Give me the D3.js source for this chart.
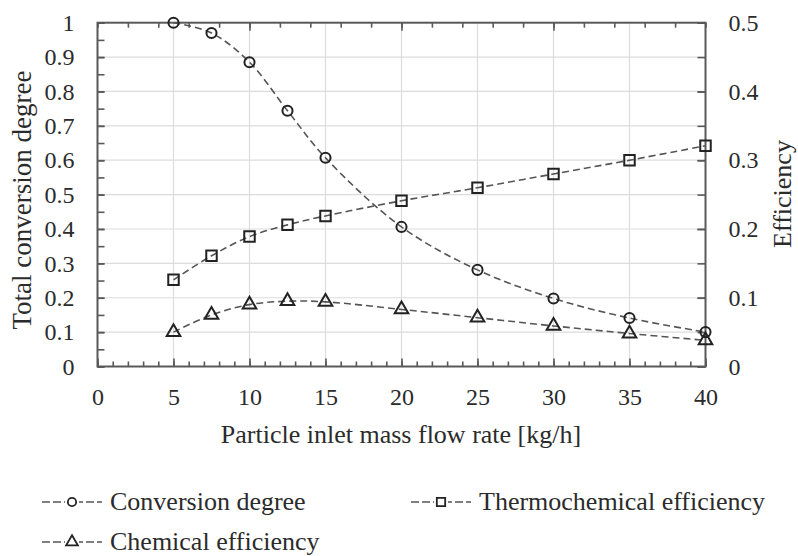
<!DOCTYPE html>
<html>
<head>
<meta charset="utf-8">
<script src="https://cdn.jsdelivr.net/npm/d3@7"></script>
<style>
  body { margin: 0; background: #fff; }
</style>
</head>
<body>
<svg id="chart" width="798" height="556"></svg>
<script>
var flowRate = [5, 7.5, 10, 12.5, 15, 20, 25, 30, 35, 40];
var conversion = [1.0, 0.97, 0.885, 0.744, 0.607, 0.406, 0.281, 0.198, 0.141, 0.1];
var thermoEff = [0.126, 0.161, 0.189, 0.206, 0.219, 0.241, 0.26, 0.28, 0.3, 0.321];
var chemEff = [0.05, 0.075, 0.09, 0.095, 0.094, 0.083, 0.071, 0.059, 0.048, 0.038];
var seriesNames = ['Conversion degree', 'Thermochemical efficiency', 'Chemical efficiency'];

var fontFamily = '"Liberation Serif", serif';
var margin = { top: 22.7, left: 97.5 };
var width = 608, height = 343.8;
var axisColor = '#595959';

var svg = d3.select('#chart');
var g = svg.append('g').attr('transform', 'translate(' + margin.left + ',' + margin.top + ')');

var x = d3.scaleLinear().domain([0, 40]).range([0, width]);
var yL = d3.scaleLinear().domain([0, 1]).range([height, 0]);
var yR = d3.scaleLinear().domain([0, 0.5]).range([height, 0]);

// grid
g.append('g').selectAll('line.h')
  .data(d3.range(0.1, 1.0, 0.1))
  .enter().append('line')
  .attr('x1', 0).attr('x2', width)
  .attr('y1', function(d){ return yL(d); }).attr('y2', function(d){ return yL(d); })
  .attr('stroke', '#dcdcdc').attr('stroke-width', 1.2);
g.append('g').selectAll('line.v')
  .data(d3.range(5, 40, 5))
  .enter().append('line')
  .attr('y1', 0).attr('y2', height)
  .attr('x1', function(d){ return x(d); }).attr('x2', function(d){ return x(d); })
  .attr('stroke', '#dcdcdc').attr('stroke-width', 1.2);

function styleAxis(sel){
  sel.select('.domain').remove();
  sel.selectAll('line').attr('stroke', axisColor).attr('stroke-width', 1.6);
  sel.selectAll('text').attr('font-size', 24).attr('fill', '#2b2b2b')
    .style('font-family', fontFamily);
}

// minor ticks
g.append('g').attr('transform', 'translate(0,' + height + ')')
  .call(d3.axisBottom(x).tickValues(d3.range(0, 41, 1)).tickSize(-5).tickFormat(''))
  .call(styleAxis);
g.append('g')
  .call(d3.axisTop(x).tickValues(d3.range(0, 41, 2)).tickSize(-5).tickFormat(''))
  .call(styleAxis);
g.append('g')
  .call(d3.axisTop(x).tickValues([10, 20, 30]).tickSize(-8).tickFormat(''))
  .call(styleAxis);
g.append('g')
  .call(d3.axisLeft(yL).tickValues(d3.range(0, 1.001, 0.05)).tickSize(-7).tickFormat(''))
  .call(styleAxis);
g.append('g').attr('transform', 'translate(' + width + ',0)')
  .call(d3.axisRight(yR).tickValues(d3.range(0, 0.501, 0.05)).tickSize(-8).tickFormat(''))
  .call(styleAxis);

// major labelled axes
g.append('g').attr('transform', 'translate(0,' + height + ')')
  .call(d3.axisBottom(x).tickValues(d3.range(0, 41, 5)).tickSize(-8).tickPadding(21).tickFormat(d3.format('d')))
  .call(styleAxis);
g.append('g')
  .call(d3.axisLeft(yL).tickValues(d3.range(0, 1.001, 0.1)).tickSize(-7).tickPadding(23)
    .tickFormat(function(d){ return d === 0 ? '0' : d === 1 ? '1' : d3.format('.1f')(d); }))
  .call(styleAxis);
g.append('g').attr('transform', 'translate(' + width + ',0)')
  .call(d3.axisRight(yR).tickValues(d3.range(0, 0.501, 0.1)).tickSize(-8).tickPadding(23)
    .tickFormat(function(d){ return d === 0 ? '0' : d3.format('.1f')(d); }))
  .call(styleAxis);

// frame
g.append('rect').attr('width', width).attr('height', height)
  .attr('fill', 'none').attr('stroke', axisColor).attr('stroke-width', 2);

// series
var series = [
  { name: seriesNames[0], values: conversion, y: yL, symbol: d3.symbolCircle, size: 80 },
  { name: seriesNames[1], values: thermoEff, y: yR, symbol: d3.symbolSquare, size: 110 },
  { name: seriesNames[2], values: chemEff, y: yR, symbol: d3.symbolTriangle, size: 80 }
];

series.forEach(function(s){
  var pts = flowRate.map(function(f, i){ return [f, s.values[i]]; });
  var line = d3.line()
    .x(function(d){ return x(d[0]); })
    .y(function(d){ return s.y(d[1]); })
    .curve(d3.curveCatmullRom.alpha(0.5));
  g.append('path').datum(pts)
    .attr('d', line)
    .attr('fill', 'none').attr('stroke', '#555').attr('stroke-width', 1.6)
    .attr('stroke-dasharray', '7,4');
  g.append('g').selectAll('path')
    .data(pts).enter().append('path')
    .attr('d', d3.symbol().type(s.symbol).size(s.size))
    .attr('transform', function(d){ return 'translate(' + x(d[0]) + ',' + s.y(d[1]) + ')'; })
    .attr('fill', 'none').attr('stroke', '#222').attr('stroke-width', 2);
});

// axis titles
var titles = svg.append('g').style('font-family', fontFamily).attr('fill', '#2b2b2b');
titles.append('text')
  .attr('x', 401).attr('y', 443)
  .attr('text-anchor', 'middle').attr('font-size', 26)
  .text('Particle inlet mass flow rate [kg/h]');
titles.append('text')
  .attr('transform', 'translate(31,200) rotate(-90)')
  .attr('text-anchor', 'middle').attr('font-size', 27)
  .text('Total conversion degree');
titles.append('text')
  .attr('transform', 'translate(791,194) rotate(-90)')
  .attr('text-anchor', 'middle').attr('font-size', 26)
  .text('Efficiency');

// legend
var legendPos = [ { x: 42, y: 502 }, { x: 411, y: 502 }, { x: 42, y: 542 } ];
var legendSize = [55, 70, 60];
var legend = svg.append('g').style('font-family', fontFamily).selectAll('g')
  .data(series).enter().append('g')
  .attr('transform', function(d, i){ return 'translate(' + legendPos[i].x + ',' + legendPos[i].y + ')'; });
legend.append('line')
  .attr('x1', 0).attr('x2', 60).attr('y1', 0).attr('y2', 0)
  .attr('stroke', '#555').attr('stroke-width', 1.6).attr('stroke-dasharray', '8,3');
legend.append('rect')
  .attr('x', 23).attr('y', -6).attr('width', 14).attr('height', 12).attr('fill', '#fff');
legend.append('path')
  .attr('d', function(d, i){ return d3.symbol().type(d.symbol).size(legendSize[i])(); })
  .attr('transform', 'translate(30,0)')
  .attr('fill', 'none').attr('stroke', '#222').attr('stroke-width', 1.8);
legend.append('text')
  .attr('x', 68).attr('y', 8)
  .attr('font-size', 26).attr('fill', '#2b2b2b')
  .text(function(d){ return d.name; });
</script>
</body>
</html>
